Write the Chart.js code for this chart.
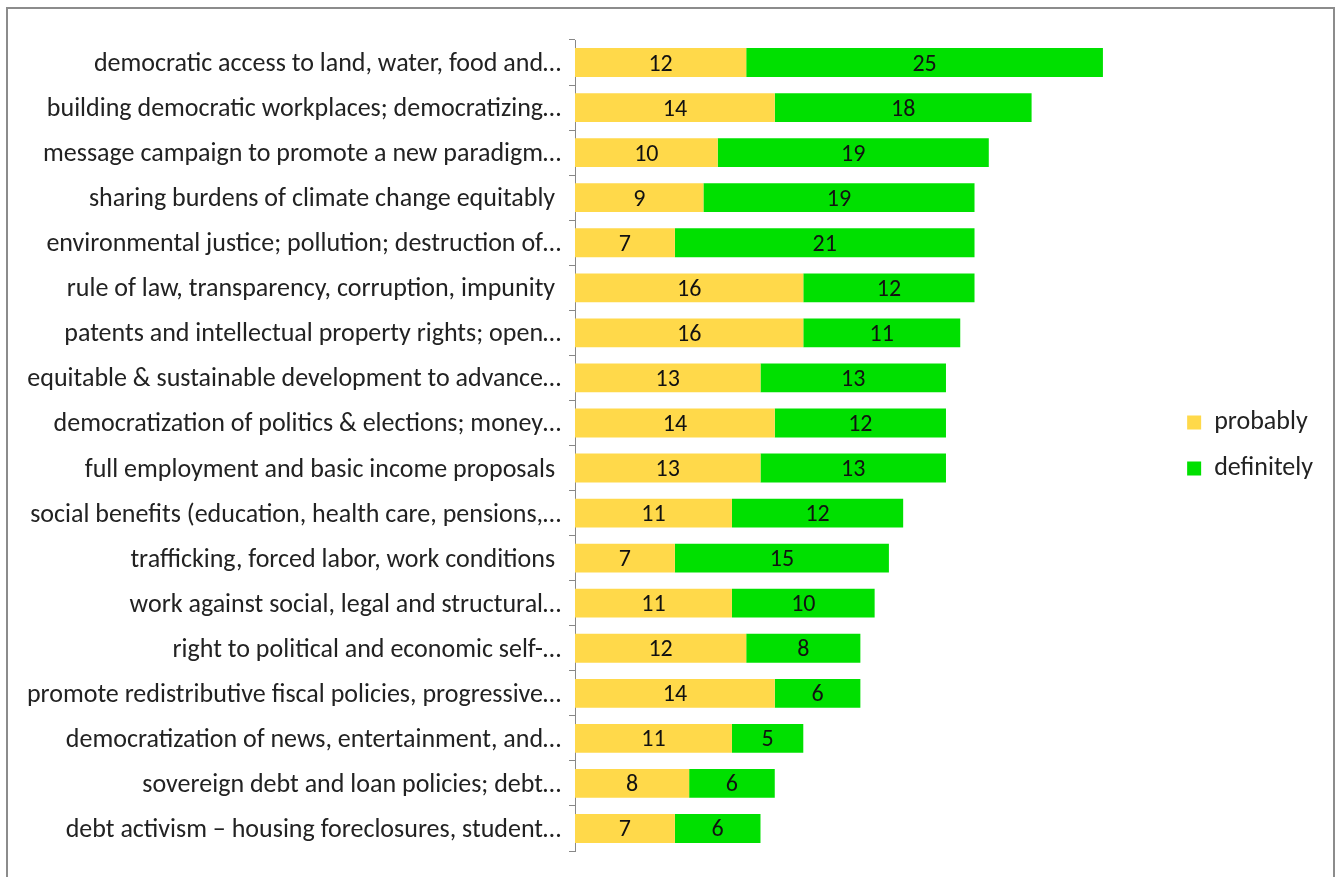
<!DOCTYPE html>
<html>
<head>
<meta charset="utf-8">
<script src="https://cdn.jsdelivr.net/npm/chart.js@4"></script>
<style>
  html, body { margin: 0; padding: 0; background: #fff; overflow: hidden; }
  #frame { position: absolute; left: 6px; top: 7px; width: 1325px; height: 880px; border: 2px solid #8c8c8c; }
  #wrap { position: absolute; left: 0; top: 0; width: 1338px; height: 877px; }
</style>
</head>
<body>
<div id="frame"></div>
<div id="wrap"><canvas id="topicChart"></canvas></div>
<script>
const categories = [
  'democratic access to land, water, food and…',
  'building democratic workplaces; democratizing…',
  'message campaign to promote a new paradigm…',
  'sharing burdens of climate change equitably ',
  'environmental justice; pollution; destruction of…',
  'rule of law, transparency, corruption, impunity ',
  'patents and intellectual property rights; open…',
  'equitable & sustainable development to advance…',
  'democratization of politics & elections; money…',
  'full employment and basic income proposals ',
  'social benefits (education, health care, pensions,…',
  'trafficking, forced labor, work conditions ',
  'work against social, legal and structural…',
  'right to political and economic self-…',
  'promote redistributive fiscal policies, progressive…',
  'democratization of news, entertainment, and…',
  'sovereign debt and loan policies; debt…',
  'debt activism – housing foreclosures, student…'
];
const probably = [12, 14, 10, 9, 7, 16, 16, 13, 14, 13, 11, 7, 11, 12, 14, 11, 8, 7];
const definitely = [25, 18, 19, 19, 21, 12, 11, 13, 12, 13, 12, 15, 10, 8, 6, 5, 6, 6];

const fontFamily = "Carlito, Calibri, Lato, 'Open Sans', sans-serif";

// draws the value in the middle of every bar segment
const segmentLabels = {
  id: 'segmentLabels',
  afterDatasetsDraw(chart) {
    const ctx = chart.ctx;
    ctx.save();
    ctx.font = '24px ' + fontFamily;
    ctx.fillStyle = '#111';
    ctx.textAlign = 'center';
    ctx.textBaseline = 'middle';
    chart.data.datasets.forEach((ds, i) => {
      chart.getDatasetMeta(i).data.forEach((bar, j) => {
        const mid = (bar.x + bar.base) / 2;
        ctx.fillText(ds.data[j], mid, bar.y + 2);
      });
    });
    ctx.restore();
  }
};

const ctx = document.getElementById('topicChart').getContext('2d');
new Chart(ctx, {
  type: 'bar',
  data: {
    labels: categories,
    datasets: [
      {
        label: 'probably',
        data: probably,
        backgroundColor: '#FFD94A',
        categoryPercentage: 0.64,
        barPercentage: 1.0
      },
      {
        label: 'definitely',
        data: definitely,
        backgroundColor: '#00E000',
        categoryPercentage: 0.64,
        barPercentage: 1.0
      }
    ]
  },
  options: {
    indexAxis: 'y',
    responsive: true,
    maintainAspectRatio: false,
    animation: false,
    layout: { padding: { top: 40, bottom: 26, left: 20, right: 15 } },
    plugins: {
      legend: {
        position: 'right',
        labels: {
          boxWidth: 14,
          boxHeight: 14,
          padding: 20,
          color: '#222',
          font: { family: fontFamily, size: 26 }
        }
      },
      tooltip: { enabled: false }
    },
    scales: {
      x: {
        stacked: true,
        min: 0,
        max: 41.5,
        display: false
      },
      y: {
        stacked: true,
        afterFit(scale) {
          scale.width = 555; // category labels are long, keep the axis at x=575
        },
        grid: {
          offset: true,
          drawOnChartArea: false,
          drawTicks: true,
          tickLength: 6,
          color: '#888'
        },
        border: { display: true, color: '#888', width: 1 },
        ticks: {
          color: '#222',
          padding: 8,
          labelOffset: 2,
          autoSkip: false,
          font: { family: fontFamily, size: 26 }
        }
      }
    }
  },
  plugins: [segmentLabels]
});
</script>
</body>
</html>
